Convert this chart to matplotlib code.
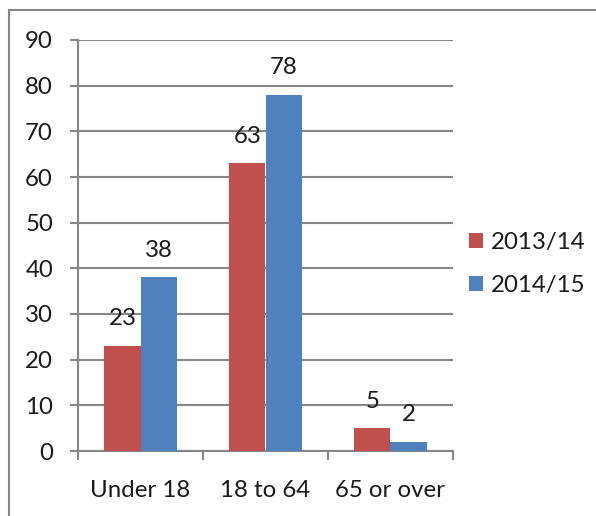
import numpy as np
import matplotlib.pyplot as plt
from matplotlib.patches import Rectangle

plt.rcParams['font.family'] = ['Lato', 'DejaVu Sans']

categories = ["Under 18", "18 to 64", "65 or over"]
series_names = ["2013/14", "2014/15"]
values_1314 = [23, 63, 5]
values_1415 = [38, 78, 2]

red = "#C0504D"
blue = "#4F81BD"
grid_col = "#868686"
txt = "#1a1a1a"
fs = 17.3

fig = plt.figure(figsize=(5.96, 5.16), dpi=100)
ax = fig.add_axes([78 / 596, 1 - 451 / 516, 375 / 596, 411 / 516])

x = np.arange(len(categories))
w = 0.29
b1 = ax.bar(x - w / 2, values_1314, w, color=red, label=series_names[0], zorder=3)
b2 = ax.bar(x + w / 2, values_1415, w, color=blue, label=series_names[1], zorder=3)

for bars, vals in [(b1, values_1314), (b2, values_1415)]:
    for bar, v in zip(bars, vals):
        ax.annotate(str(v), (bar.get_x() + bar.get_width() / 2, v),
                    xytext=(0, 19.5), textcoords="offset points",
                    ha="center", va="center", fontsize=fs, color=txt)

ax.set_xlim(-0.5, 2.5)
ax.set_ylim(0, 90)
ax.set_yticks(range(0, 91, 10))
ax.yaxis.grid(True, color=grid_col, linewidth=1.5, zorder=0)
ax.set_axisbelow(True)

ax.set_xticks(x)
ax.set_xticklabels(categories)
ax.set_xticks([-0.5, 0.5, 1.5, 2.5], minor=True)
ax.tick_params(axis="x", which="major", length=0, pad=21, labelsize=fs, labelcolor=txt)
ax.tick_params(axis="x", which="minor", length=6.5, width=1.5, color=grid_col)
ax.tick_params(axis="y", length=6, width=1.5, color=grid_col, pad=12,
               labelsize=fs, labelcolor=txt)

for s in ["top", "right"]:
    ax.spines[s].set_visible(False)
for s in ["left", "bottom"]:
    ax.spines[s].set_color(grid_col)
    ax.spines[s].set_linewidth(1.5)

fig.legend(loc="center left", bbox_to_anchor=(469 / 596, 1 - 264 / 516),
           frameon=False, fontsize=fs, borderpad=0, borderaxespad=0,
           handlelength=0.6, handleheight=0.6, handletextpad=0.3,
           labelspacing=0.9, labelcolor=txt)

# outer chart border
fig.patches.append(Rectangle((9 / 596, -0.1), 1.2, 1 - 10 / 516 + 0.1,
                             transform=fig.transFigure, fill=False,
                             edgecolor=grid_col, linewidth=1.5))

fig.savefig("out.png", dpi=100)
